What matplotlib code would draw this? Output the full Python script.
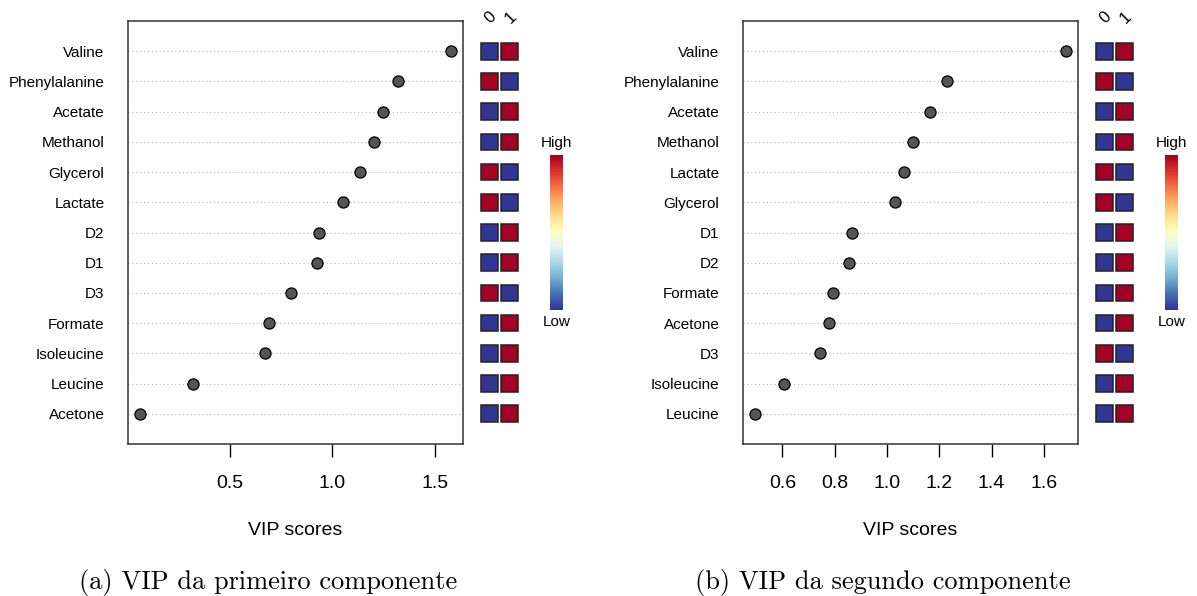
import numpy as np
import matplotlib
matplotlib.use("Agg")
import matplotlib.pyplot as plt
from matplotlib.patches import Rectangle

plt.rcParams['font.family'] = ['Liberation Sans', 'DejaVu Sans']

# VIP scores, first component (top to bottom)
names_a = ["Valine", "Phenylalanine", "Acetate", "Methanol", "Glycerol", "Lactate",
           "D2", "D1", "D3", "Formate", "Isoleucine", "Leucine", "Acetone"]
vip_a = [1.576, 1.318, 1.246, 1.205, 1.133, 1.051, 0.934, 0.925, 0.799, 0.691,
         0.673, 0.320, 0.065]
# 1 -> group "1" is high, 0 -> group "0" is high
high_a = [1, 0, 1, 1, 0, 0, 1, 1, 0, 1, 1, 1, 1]
ticks_a = [0.5, 1.0, 1.5]

# VIP scores, second component
names_b = ["Valine", "Phenylalanine", "Acetate", "Methanol", "Lactate", "Glycerol",
           "D1", "D2", "Formate", "Acetone", "D3", "Isoleucine", "Leucine"]
vip_b = [1.683, 1.229, 1.165, 1.098, 1.067, 1.031, 0.868, 0.856, 0.794, 0.778,
         0.743, 0.607, 0.497]
high_b = [1, 0, 1, 1, 0, 0, 1, 1, 1, 1, 0, 1, 1]
ticks_b = [0.6, 0.8, 1.0, 1.2, 1.4, 1.6]

groups = ["0", "1"]
captions = ["(a) VIP da primeiro componente", "(b) VIP da segundo componente"]

W, H = 1197, 596
fig = plt.figure(figsize=(W / 100, H / 100), dpi=100)


def px_axes(x0, y0, x1, y1):
    return fig.add_axes([x0 / W, 1 - y1 / H, (x1 - x0) / W, (y1 - y0) / H])


cmap = plt.get_cmap("RdYlBu_r", 60)
low_col, high_col = cmap(0), cmap(59)


def panel(x0, names, vip, high, ticks, caption):
    n = len(names)
    ypos = np.arange(n, 0, -1)
    box_r = x0 + 335
    ax = px_axes(x0, 21, box_r, 444)
    for y in ypos:
        ax.axhline(y, color="#b5b5b5", lw=0.8, ls=(0, (1, 2.5)), zorder=1)
    ax.plot(vip, ypos, "o", ms=8, mfc="#555555", mec="black", mew=0.9, zorder=3)
    lo, hi = min(vip), max(vip)
    pad = 0.04 * (hi - lo)
    ax.set_xlim(lo - pad, hi + pad)
    ax.set_ylim(0, n + 1)
    ax.set_yticks(ypos)
    ax.set_yticklabels(names, fontsize=11)
    ax.tick_params(axis="y", length=0, pad=17)
    ax.set_xticks(ticks)
    ax.set_xticklabels(["%.1f" % t for t in ticks], fontsize=14)
    ax.tick_params(axis="x", length=9, width=1, pad=13, direction="out")
    ax.set_xlabel("VIP scores", fontsize=14, labelpad=22)
    for s in ax.spines.values():
        s.set_color("#333333")
        s.set_linewidth(1.1)

    # heat squares
    hx = px_axes(box_r + 16, 21, box_r + 57, 444)
    hx.set_xlim(-0.5, 1.5)
    hx.set_ylim(0, n + 1)
    hx.axis("off")
    for y, h in zip(ypos, high):
        for j in range(2):
            c = high_col if (j == 1) == (h == 1) else low_col
            hx.add_patch(Rectangle((j - 0.41, y - 0.275), 0.82, 0.55,
                                   facecolor=c, edgecolor="#222222", lw=1.1))
    for j, g in enumerate(groups):
        hx.text(j + 0.05, n + 1.1, g, rotation=45, ha="center", va="center",
                fontsize=12, clip_on=False)

    # colour key
    cx = px_axes(box_r + 87, 155, box_r + 100, 310)
    grad = np.linspace(0, 1, 60).reshape(-1, 1)
    cx.imshow(grad, aspect="auto", cmap=cmap, origin="lower")
    cx.set_xticks([])
    cx.set_yticks([])
    for s in cx.spines.values():
        s.set_visible(False)
    cx.text(0.5, 1.03, "High", transform=cx.transAxes, ha="center", va="bottom",
            fontsize=11)
    cx.text(0.5, -0.03, "Low", transform=cx.transAxes, ha="center", va="top",
            fontsize=11)

    fig.text((x0 + 140) / W, 1 - 583 / H, caption, ha="center", va="center",
             fontsize=19, family="cmr10")


panel(128, names_a, vip_a, high_a, ticks_a, captions[0])
panel(743, names_b, vip_b, high_b, ticks_b, captions[1])

fig.savefig("out.png", dpi=100)
